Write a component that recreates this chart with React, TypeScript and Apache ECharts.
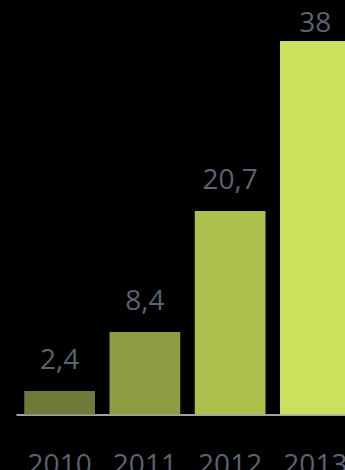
import React, { useEffect, useRef } from "react";
import * as echarts from "echarts";

const categories = ["2010", "2011", "2012", "2013"];
const values = [2.4, 8.4, 20.7, 38];
const barColors = ["#6e7a35", "#8e9c42", "#adbf4d", "#cbe05c"];

export default function App() {
  const ref = useRef<HTMLDivElement>(null);
  useEffect(() => {
    if (!ref.current) return;
    const chart = echarts.init(ref.current, undefined, { renderer: "svg" });
    const textColor = "#5b6272";
    const font = "'Open Sans', 'Segoe UI', sans-serif";
    chart.setOption({
      animation: false,
      backgroundColor: "#000000",
      grid: { left: 17, width: 341, top: 21.3, bottom: 55.5, containLabel: false, outerBoundsMode: "none" },
      xAxis: {
        type: "category",
        data: categories,
        axisLine: { show: true, lineStyle: { color: "#d8d8d8", width: 1.5 } },
        axisTick: { show: false },
        axisLabel: { color: textColor, fontSize: 28, fontFamily: font, margin: 34 },
      },
      yAxis: {
        type: "value",
        min: 0,
        max: 40,
        show: false,
        splitLine: { show: false },
      },
      series: [
        {
          type: "bar",
          barCategoryGap: "17%",
          data: values.map((v, i) => ({
            value: v,
            itemStyle: { color: barColors[i] },
            label: i === values.length - 1 ? { distance: 6 } : undefined,
          })),
          label: {
            show: true,
            position: "top",
            distance: 19,
            color: textColor,
            fontSize: 28,
            fontFamily: font,
            formatter: (p: any) => String(p.value).replace(".", ","),
          },
        },
      ],
    });
    return () => chart.dispose();
  }, []);
  return (
    <div style={{ position: "fixed", left: 0, top: 0, width: 345, height: 470, overflow: "hidden", background: "#000" }}>
      <div ref={ref} style={{ width: 380, height: 470 }} />
    </div>
  );
}
